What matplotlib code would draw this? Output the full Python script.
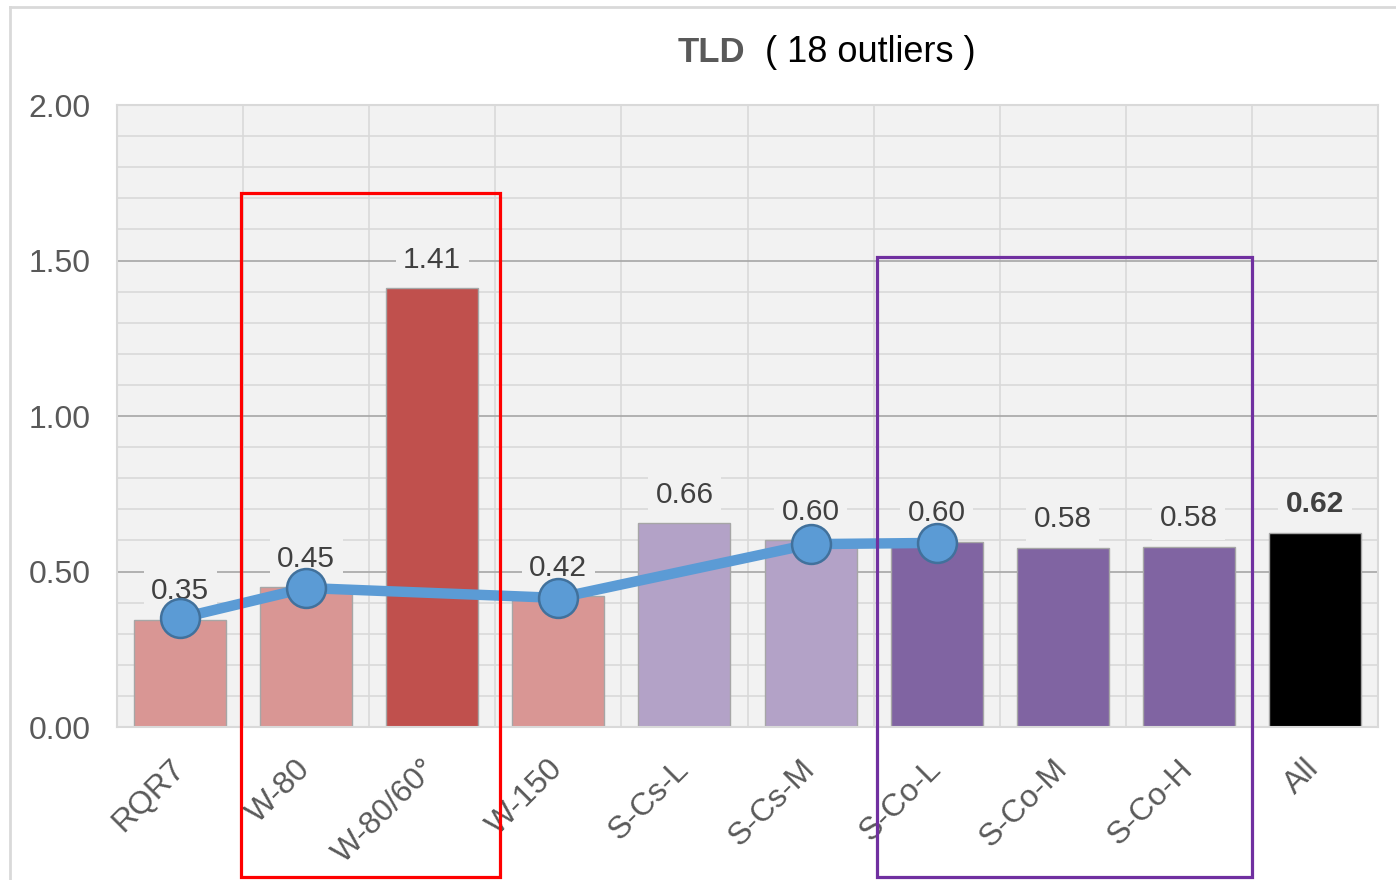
import matplotlib
matplotlib.use("Agg")
import matplotlib.pyplot as plt
from matplotlib.patches import Rectangle
from matplotlib.lines import Line2D

plt.rcParams['font.family'] = ['Liberation Sans', 'DejaVu Sans']

categories = ['RQR7', 'W-80', 'W-80/60°', 'W-150', 'S-Cs-L', 'S-Cs-M',
              'S-Co-L', 'S-Co-M', 'S-Co-H', 'All']
bar_values = [0.345, 0.45, 1.41, 0.42, 0.656, 0.60, 0.595, 0.577, 0.579, 0.624]
bar_labels = ['0.35', '0.45', '1.41', '0.42', '0.66', '0.60', '0.60', '0.58', '0.58', '0.62']
bar_colors = ['#d99694', '#d99694', '#c0504d', '#d99694', '#b3a2c7', '#b3a2c7',
              '#8064a2', '#8064a2', '#8064a2', '#000000']
line_categories = ['RQR7', 'W-80', 'W-150', 'S-Cs-M', 'S-Co-L']
line_values = [0.35, 0.447, 0.415, 0.588, 0.592]
y_ticks = [0.0, 0.5, 1.0, 1.5, 2.0]
y_tick_labels = ['0.00', '0.50', '1.00', '1.50', '2.00']

W, H = 1396, 880
fig = plt.figure(figsize=(W / 100, H / 100), dpi=100)
ax = fig.add_axes([117 / W, 1 - 727 / H, (1378 - 117) / W, (727 - 105) / H])
ax.set_facecolor('#f2f2f2')

x = list(range(len(categories)))
ax.bar(x, bar_values, width=0.73, color=bar_colors, edgecolor='#a6a6a6',
       linewidth=1.0, zorder=2)

for xi, v, lab in zip(x, bar_values, bar_labels):
    bold = xi == len(categories) - 1
    ax.annotate(lab, (xi, v), xytext=(0, 20.5), textcoords='offset points',
                ha='center', va='center', fontsize=21.5,
                fontweight='bold' if bold else 'normal', color='#404040',
                bbox=dict(boxstyle='square,pad=0.25', facecolor='#f2f2f2',
                          edgecolor='none'), zorder=3)

lx = [categories.index(c) for c in line_categories]
ax.plot(lx, line_values, color='#5b9bd5', linewidth=7.5, marker='o',
        markersize=28, markerfacecolor='#5b9bd5', markeredgecolor='#41719c',
        markeredgewidth=1.8, zorder=4, solid_capstyle='round')

ax.set_xlim(-0.5, len(categories) - 0.5)
ax.set_ylim(0, 2.0)
ax.set_yticks(y_ticks)
ax.set_yticklabels(y_tick_labels)
ax.set_yticks([i / 10 for i in range(21)], minor=True)
ax.set_xticks(x)
ax.set_xticklabels(categories, rotation=45, ha='right', va='center',
                   rotation_mode='anchor')
ax.set_xticks([i - 0.5 for i in range(len(categories) + 1)], minor=True)

ax.tick_params(axis='both', which='both', length=0)
ax.tick_params(axis='y', labelsize=23, labelcolor='#595959', pad=19)
ax.tick_params(axis='x', labelsize=23, labelcolor='#595959', pad=27)

ax.set_axisbelow(True)
ax.grid(which='minor', axis='both', color='#d9d9d9', linewidth=1.2)
ax.grid(which='major', axis='y', color='#a6a6a6', linewidth=1.2)
ax.grid(which='major', axis='x', visible=False)

for s in ax.spines.values():
    s.set_color('#d9d9d9')
    s.set_linewidth(1.5)

# highlight boxes
ax.add_patch(Rectangle((0.487, -0.482), 2.537 - 0.487, 1.717 + 0.482,
                       fill=False, edgecolor='#ff0000', linewidth=2.3,
                       clip_on=False, zorder=6))
ax.add_patch(Rectangle((5.527, -0.482), 8.50 - 5.527, 1.511 + 0.482,
                       fill=False, edgecolor='#7030a0', linewidth=2.3,
                       clip_on=False, zorder=6))

# title
fig.text(745 / W, 1 - 62 / H, 'TLD', ha='right', va='baseline', fontsize=25,
         fontweight='bold', color='#595959')
fig.text(765 / W, 1 - 62 / H, '( 18 outliers )', ha='left', va='baseline',
         fontsize=26, color='#000000')

# figure border (left and top)
fig.add_artist(Line2D([10 / W, 10 / W], [0, 1 - 7 / H], transform=fig.transFigure,
                      color='#d9d9d9', linewidth=2))
fig.add_artist(Line2D([10 / W, 1], [1 - 7 / H, 1 - 7 / H], transform=fig.transFigure,
                      color='#d9d9d9', linewidth=2))

fig.savefig('out.png', dpi=100)
